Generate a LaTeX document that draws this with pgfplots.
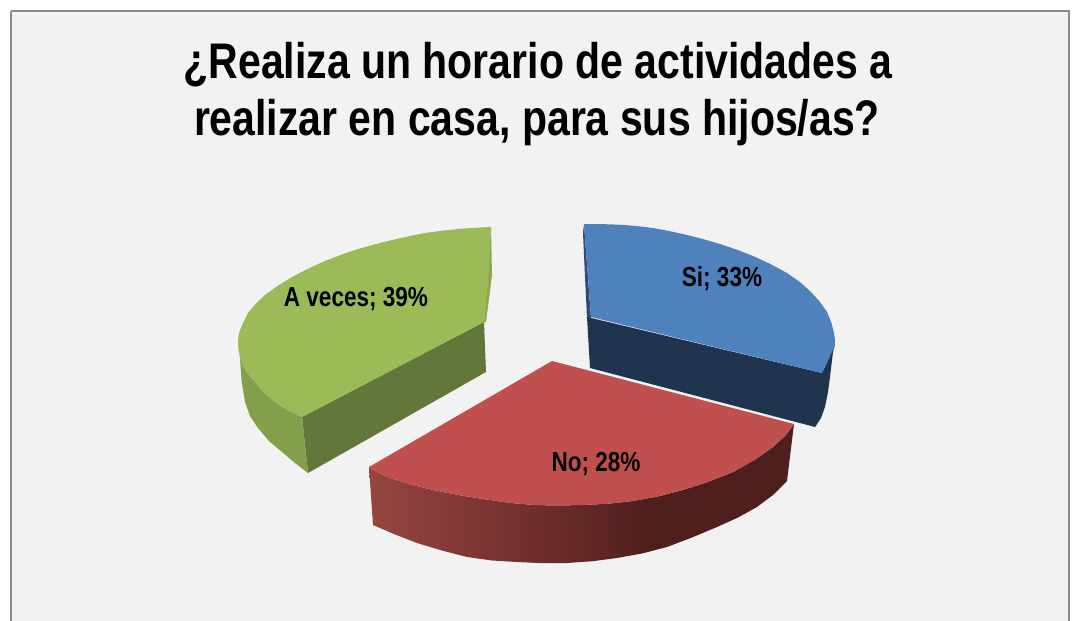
\documentclass[border=0pt]{standalone}
\usepackage{pgfplots}
\pgfplotsset{compat=1.18}
\usepackage{fontspec}
\setmainfont[FakeStretch=0.82]{Liberation Sans}
\definecolor{bgc}{HTML}{F2F2F2}
\definecolor{framec}{HTML}{8C8C8C}
\definecolor{blueT}{HTML}{4F81BD}
\definecolor{blueD}{HTML}{1F344F}
\definecolor{blueS}{HTML}{2E4D73}
\definecolor{redT}{HTML}{C0504D}
\definecolor{greenT}{HTML}{9BBB59}
\definecolor{greenD}{HTML}{63773A}
\definecolor{greenS}{HTML}{82A04C}
\definecolor{greenE}{HTML}{8AA84F}
\definecolor{redA}{HTML}{96453F}
\definecolor{redB}{HTML}{793431}
\definecolor{redC}{HTML}{4F1F1D}
\pgfdeclarehorizontalshading{redside}{100bp}{color(0bp)=(redA); color(25bp)=(redA);
 color(40bp)=(redB); color(58bp)=(redC); color(100bp)=(redC)}
\begin{document}
\begin{tikzpicture}
\begin{axis}[scale only axis,width=1072pt,height=621pt,xmin=0,xmax=1072,ymin=0,ymax=621,
  y dir=reverse,hide axis,clip=true,every axis plot/.append style={mark=none,forget plot}]
% page and chart area
\addplot[fill=white,draw=none] coordinates {(0,0)(1072,0)(1072,621)(0,621)};
\addplot[fill=bgc,draw=framec,line width=2.4pt] coordinates {(11,11)(1069,11)(1069,660)(11,660)(11,11)};
% Si 33%
\addplot[fill=blueS,draw=none] coordinates {(584,224)(583,233)(585,277)(587,318)(591,318)};
\addplot[fill=blueD,draw=none] coordinates {(587,317)(822,373)(835,345)(833,352)(830,377)(828,392)(825,407)(821,418)(815,427)(590,368)};
\addplot[fill=blueT,draw=none] coordinates {(584,224)(602,224.1)(620,224.7)(636.6,226)(653,228)(670,231.2)(687,235)(703.5,239.2)(720,244)(736.5,249.5)(753,256)(770.6,264.1)(787,273)(799.6,281.75)(810,291)(819.5,301.3)(827,312)(831.5,323)(834,333)(834.8,339)(835,345)(822,373)(591,317)};
% No 28%
\addplot[shading=redside,draw=none] coordinates {(369,467)(373,525)(395,534.5)(417,543)(442,550.5)(467,557)(492,560.5)(517,562)(542,563.2)(567,563)(592,561.3)(617,558)(642,553.5)(667,547)(692,537.5)(717,527)(738,517.5)(757,507)(773,495)(787,481)(794,424)(785,436)(773,447)(754.8,459.8)(733,472)(708,481.9)(683,490)(658,496.4)(633,501)(608,503.7)(583,505)(558,505.5)(533,505)(508,502.6)(483,499)(458,494.9)(433,490)(409.7,484.1)(390,478)(379,473)};
\addplot[fill=redT,draw=none] coordinates {(552,361)(794,424)(785,436)(773,447)(754.8,459.8)(733,472)(708,481.9)(683,490)(658,496.4)(633,501)(608,503.7)(583,505)(558,505.5)(533,505)(508,502.6)(483,499)(458,494.9)(433,490)(409.7,484.1)(390,478)(379,473)(369,467)};
% A veces 39%
\addplot[fill=greenD,draw=none] coordinates {(302,417)(484,322)(486,372)(308,473)};
\addplot[fill=greenS,draw=none] coordinates {(240,358)(241.5,380)(245,402)(250,416)(258,428)(269,441)(282,452)(295,463)(308,473)(302,417)(288,410.5)(275,402)(264,393)(255,382)(246,371)};
\addplot[fill=greenE,draw=none] coordinates {(491,227)(492,275)(486,322)(484,322)};
\addplot[fill=greenT,draw=none] coordinates {(491,227)(474.5,227.8)(458,229)(441.5,230.8)(425,233)(408.5,236.3)(392,240)(375,244.3)(358,249)(341.5,254.7)(325,261)(308,268.7)(292,277)(278,285.7)(265,295)(256,303.5)(248,313)(243,323)(239,333)(238.3,338)(238,343)(238.5,350)(240,358)(246,371)(255,382)(264,393)(275,402)(288,410.5)(302,417)(484,322)(488,282)};
% labels
\node[font=\bfseries\fontsize{27.5}{33}\selectfont] at (axis cs:722,279) {Si; 33\%};
\node[font=\bfseries\fontsize{27.5}{33}\selectfont] at (axis cs:596,464) {No; 28\%};
\node[font=\bfseries\fontsize{27.5}{33}\selectfont] at (axis cs:356,299) {A veces; 39\%};
\node[font=\bfseries\fontsize{50}{60}\selectfont] at (axis cs:538,65) {¿Realiza un horario de actividades a};
\node[font=\bfseries\fontsize{50}{60}\selectfont] at (axis cs:537,123) {realizar en casa, para sus hijos/as?};
\end{axis}
\end{tikzpicture}
\end{document}
